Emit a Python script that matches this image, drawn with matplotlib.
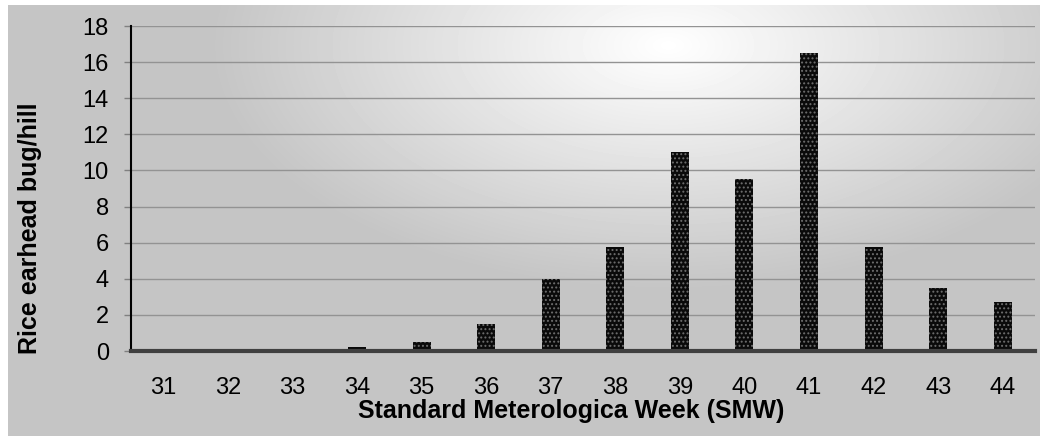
import numpy as np
import matplotlib
matplotlib.use('Agg')
import matplotlib.pyplot as plt

plt.rcParams['font.family'] = ['Liberation Sans', 'DejaVu Sans']
plt.rcParams['hatch.linewidth'] = 0.9

# Data
weeks = ['31', '32', '33', '34', '35', '36', '37', '38', '39', '40', '41', '42', '43', '44']
bugs_per_hill = [0, 0, 0, 0.2, 0.5, 1.5, 4.0, 5.75, 11.0, 9.5, 16.5, 5.75, 3.5, 2.7]

fig = plt.figure(figsize=(10.4, 4.36), dpi=100)
fig.patch.set_facecolor('white')

# Gradient background panel (light spot near upper middle, darker corners)
bg = fig.add_axes([8 / 1040, 0, 1 - 8 / 1040, 1 - 5 / 436])
bg.set_axis_off()
yy, xx = np.mgrid[0:431, 0:1032]
d = np.sqrt(((xx - 660) / 900.0) ** 2 + ((yy - 40) / 480.0) ** 2)
shade = np.clip(1.0 - 0.45 * d, 0.77, 1.0)
bg.imshow(shade, cmap='gray', vmin=0, vmax=1, aspect='auto', interpolation='bilinear')

ax = fig.add_axes([131 / 1040, 1 - 351 / 436, (1035 - 131) / 1040, (351 - 26) / 436])
ax.patch.set_alpha(0)

x = np.arange(len(weeks))
ax.bar(x, bugs_per_hill, width=0.28, color='#0a0a0a', edgecolor='#6e6e6e',
       hatch='....', linewidth=0, zorder=3)

ax.set_xlim(-0.5, len(weeks) - 0.5)
ax.set_ylim(0, 18)
ax.set_yticks(np.arange(0, 19, 2))
ax.set_xticks(x)
ax.set_xticklabels(weeks)
ax.grid(axis='y', color='#939393', linewidth=1.0, zorder=1)

for side in ['top', 'right']:
    ax.spines[side].set_visible(False)
ax.spines['left'].set_color('black')
ax.spines['left'].set_linewidth(1.5)
ax.spines['bottom'].set_color('#404040')
ax.spines['bottom'].set_linewidth(3)
ax.spines['bottom'].set_zorder(4)

ax.tick_params(axis='y', length=5, width=1, color='#808080', labelsize=17, pad=11)
ax.tick_params(axis='x', length=0, labelsize=17, pad=19)

ax.set_ylabel('Rice earhead bug/hill', fontsize=18, fontweight='bold')
ax.yaxis.set_label_coords(-0.098, 0.378)
ax.set_xlabel('Standard Meterologica Week (SMW)', fontsize=18, fontweight='bold')
ax.xaxis.set_label_coords(0.487, -0.148)

plt.savefig('out.png', dpi=100)
